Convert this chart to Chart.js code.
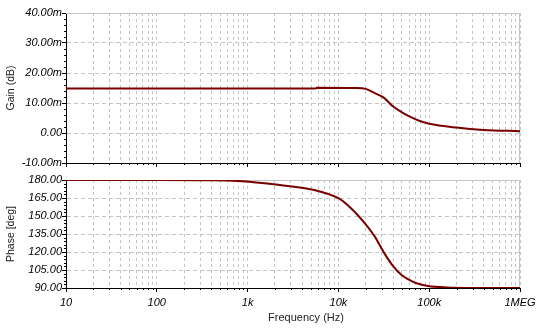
<!DOCTYPE html>
<html>
<head>
<meta charset="utf-8">
<script src="https://cdn.jsdelivr.net/npm/chart.js@4.4.0/dist/chart.umd.min.js"></script>
<style>
  body { margin: 0; background: #fff; }
  #wrap { position: relative; width: 546px; height: 335px; }
  canvas { position: absolute; left: 0; }
  #gainChart { top: 0; }
  #phaseChart { top: 165px; }
</style>
</head>
<body>
<div id="wrap">
  <canvas id="gainChart" width="546" height="170"></canvas>
  <canvas id="phaseChart" width="546" height="170"></canvas>
</div>
<script>
const decades = [10, 100, 1e3, 1e4, 1e5, 1e6]
const freqLabels = ["10", "100", "1k", "10k", "100k", "1MEG"]

const gainTicks = [-10, 0, 10, 20, 30, 40]
const gainLabels = ["-10.00m", "0.00", "10.00m", "20.00m", "30.00m", "40.00m"]
const phaseTicks = [90, 105, 120, 135, 150, 165, 180]
const phaseLabels = ["90.00", "105.00", "120.00", "135.00", "150.00", "165.00", "180.00"]

const gainFreq = [10, 100, 1000, 5600, 5800, 15600, 20000, 25100, 31600, 39800, 50000, 63000, 79000, 100000, 200000, 400000, 1e6]
const gainValues = [14.8, 14.8, 14.8, 14.8, 15.1, 15.0, 14.7, 13.3, 11.8, 8.9, 6.9, 5.3, 4.0, 3.1, 1.8, 1.0, 0.6]

const phaseFreq = [10, 100, 300, 790, 2270, 5400, 10000, 12600, 15800, 20000, 25100, 31600, 39800, 50000, 63000, 79000, 100000, 158000, 300000, 1e6]
const phaseValues = [180, 180, 179.8, 179.2, 175.8, 171.7, 164.8, 159.2, 151.9, 143.1, 133, 119.7, 108.5, 100.6, 96, 93.1, 91.5, 90.5, 90.1, 90]

const lineColor = "#7a0000"
const gridColor = "#c4c4c4"

// grid positions: 1..9 of every decade
const freqGrid = []
decades.slice(0, -1).forEach(d => { for (let k = 1; k < 10; k++) freqGrid.push(k * d) })
freqGrid.push(decades[decades.length - 1])

const toPoints = (xs, ys) => xs.map((x, i) => ({x: x, y: ys[i]}))

// grey top/right frame plus the small minor ticks
const frame = {
    id: "frame",
    beforeDatasetsDraw(chart) {
        const {ctx, chartArea: a} = chart
        ctx.save()
        ctx.lineWidth = 1
        ctx.strokeStyle = gridColor
        ctx.beginPath()
        ctx.moveTo(a.left, a.top + 0.5)
        ctx.lineTo(a.right - 0.5, a.top + 0.5)
        ctx.lineTo(a.right - 0.5, a.bottom)
        ctx.stroke()

        ctx.strokeStyle = "#000"
        ctx.beginPath()
        const y = chart.scales.y
        for (let i = 0; i < y.ticks.length - 1; i++) {
            const p0 = y.getPixelForValue(y.ticks[i].value)
            const p1 = y.getPixelForValue(y.ticks[i + 1].value)
            for (let j = 1; j < 5; j++) {
                const py = Math.round(p0 + (p1 - p0) * j / 5) + 0.5
                ctx.moveTo(a.left - 2, py)
                ctx.lineTo(a.left, py)
            }
        }
        const x = chart.scales.x
        x.ticks.forEach(t => {
            if (decades.includes(t.value)) return
            const px = Math.round(x.getPixelForValue(t.value)) + 0.5
            ctx.moveTo(px, a.bottom)
            ctx.lineTo(px, a.bottom + 2)
        })
        ctx.stroke()
        ctx.restore()
    }
}

const freqTitle = {
    id: "freqTitle",
    afterDraw(chart) {
        const {ctx, chartArea: a} = chart
        ctx.save()
        ctx.font = "11px 'Liberation Sans', Arial, sans-serif"
        ctx.fillStyle = "#222"
        ctx.textAlign = "center"
        ctx.textBaseline = "middle"
        ctx.fillText("Frequency (Hz)", (a.left + a.right) / 2 + 13, a.bottom + 30)
        ctx.restore()
    }
}

function makeChart(id, points, yTicks, yLabels, yTitle, showFreq) {
    const tickFont = {family: "'Liberation Sans', Arial, sans-serif", size: 11, style: "italic"}
    return new Chart(document.getElementById(id), {
        type: "line",
        data: {
            datasets: [{
                data: points,
                borderColor: lineColor,
                borderWidth: 2,
                pointRadius: 0,
                cubicInterpolationMode: "monotone",
                fill: false
            }]
        },
        options: {
            responsive: false,
            animation: false,
            layout: {padding: {left: 0, right: 26, top: showFreq ? 15 : 13, bottom: showFreq ? 10 : 3}},
            plugins: {legend: {display: false}, tooltip: {enabled: false}},
            scales: {
                x: {
                    type: "logarithmic",
                    min: decades[0],
                    max: decades[decades.length - 1],
                    afterBuildTicks: scale => { scale.ticks = freqGrid.map(v => ({value: v})) },
                    afterFit: scale => { scale.height = showFreq ? 37 : 4 },
                    grid: {
                        color: gridColor,
                        drawTicks: true,
                        tickLength: 4,
                        tickColor: c => decades.includes(c.tick && c.tick.value) ? "#000" : "rgba(0,0,0,0)",
                        tickBorderDash: []
                    },
                    border: {display: true, color: "#000", width: 1, dash: [3, 3]},
                    ticks: {
                        display: showFreq,
                        autoSkip: false,
                        maxRotation: 0,
                        padding: 4,
                        color: "#000",
                        font: tickFont,
                        callback: v => {
                            const i = decades.indexOf(v)
                            return i >= 0 ? freqLabels[i] : ""
                        }
                    }
                },
                y: {
                    min: yTicks[0],
                    max: yTicks[yTicks.length - 1],
                    afterBuildTicks: scale => { scale.ticks = yTicks.map(v => ({value: v})) },
                    afterFit: scale => { scale.width = 66 },
                    grid: {
                        color: gridColor,
                        drawTicks: true,
                        tickLength: 4,
                        tickColor: "#000",
                        tickBorderDash: []
                    },
                    border: {display: true, color: "#000", width: 1, dash: [4, 3]},
                    ticks: {
                        padding: 0,
                        color: "#000",
                        font: tickFont,
                        callback: v => {
                            const i = yTicks.indexOf(v)
                            return i >= 0 ? yLabels[i] : ""
                        }
                    },
                    title: {
                        display: true,
                        text: yTitle,
                        color: "#222",
                        font: {family: "'Liberation Sans', Arial, sans-serif", size: 10.5},
                        padding: {top: 5, bottom: 0}
                    }
                }
            }
        },
        plugins: showFreq ? [frame, freqTitle] : [frame]
    })
}

makeChart("gainChart", toPoints(gainFreq, gainValues), gainTicks, gainLabels, "Gain (dB)", false)
makeChart("phaseChart", toPoints(phaseFreq, phaseValues), phaseTicks, phaseLabels, "Phase [deg]", true)
</script>
</body>
</html>
